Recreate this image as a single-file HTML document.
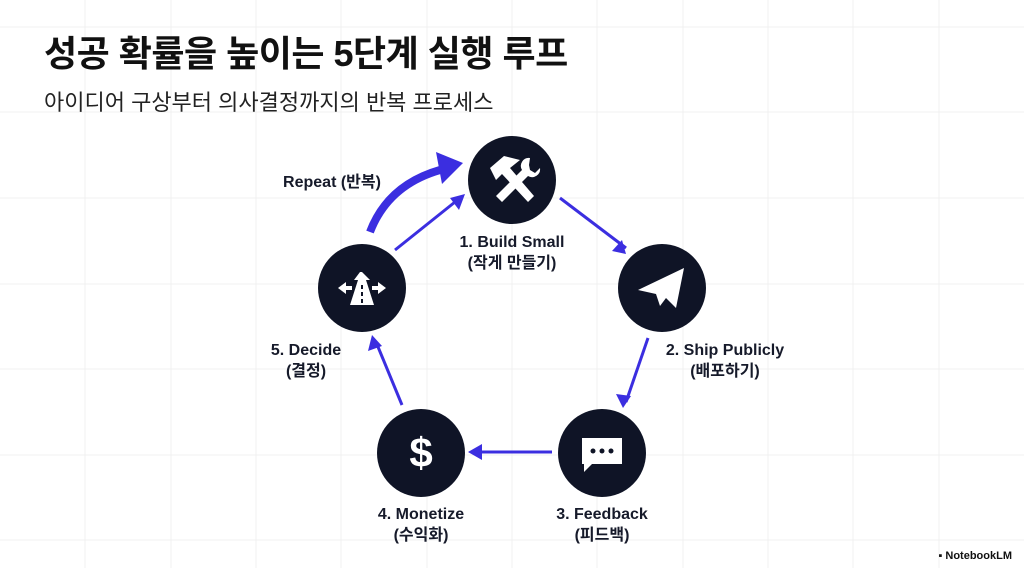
<!DOCTYPE html>
<html><head><meta charset="utf-8"><style>
body{margin:0;width:1024px;height:568px;overflow:hidden;background:#fff;font-family:"Liberation Sans","Noto Sans CJK KR",sans-serif;color:#111}
.t{position:absolute;left:44px;top:30px;font-size:36px;font-weight:bold;letter-spacing:-0.5px;line-height:48px}
.s{position:absolute;left:44px;top:88px;font-size:22px;color:#222;line-height:30px}
.l{position:absolute;font-weight:bold;font-size:16px;text-align:center;width:200px;line-height:21px;color:#161a2a}
.nb{position:absolute;right:12px;bottom:6px;font-size:11px;font-weight:bold}
</style></head><body>
<svg width="1024" height="568" style="position:absolute;left:0;top:0">
<g stroke="#f0f0f0" stroke-width="1">
<line x1="85" y1="0" x2="85" y2="568"/><line x1="171" y1="0" x2="171" y2="568"/><line x1="256" y1="0" x2="256" y2="568"/><line x1="341" y1="0" x2="341" y2="568"/><line x1="427" y1="0" x2="427" y2="568"/><line x1="512" y1="0" x2="512" y2="568"/><line x1="597" y1="0" x2="597" y2="568"/><line x1="683" y1="0" x2="683" y2="568"/><line x1="768" y1="0" x2="768" y2="568"/><line x1="853" y1="0" x2="853" y2="568"/><line x1="939" y1="0" x2="939" y2="568"/>
<line x1="0" y1="27" x2="1024" y2="27"/><line x1="0" y1="112" x2="1024" y2="112"/><line x1="0" y1="198" x2="1024" y2="198"/><line x1="0" y1="284" x2="1024" y2="284"/><line x1="0" y1="369" x2="1024" y2="369"/><line x1="0" y1="455" x2="1024" y2="455"/><line x1="0" y1="540" x2="1024" y2="540"/>
</g>
<g stroke="#3b2ee0" stroke-width="3" fill="none">
<line x1="560" y1="198" x2="626" y2="248"/>
<line x1="648" y1="338" x2="626" y2="402"/>
<line x1="552" y1="452" x2="474" y2="452"/>
<line x1="402" y1="405" x2="376" y2="342"/>
<line x1="395" y1="250" x2="460" y2="198"/>
<path d="M370,232 Q388,185 440,170" stroke-width="8"/>
</g>
<g fill="#3b2ee0">
<path d="M626,254 L612,251 L622,240 z"/>
<path d="M623,408 L616,394 L631,396 z"/>
<path d="M468,452 L482,444 L482,460 z"/>
<path d="M372,335 L368,351 L382,346 z"/>
<path d="M465,194 L450,198 L459,210 z"/>
<path d="M463,163 L436,152 L442,184 z"/>
</g>
<g fill="#0f1426">
<circle cx="512" cy="180" r="44"/><circle cx="662" cy="288" r="44"/><circle cx="602" cy="453" r="44"/><circle cx="421" cy="453" r="44"/><circle cx="362" cy="288" r="44"/>
</g>
<g fill="#fff">
<path d="M490,168 L504,156 L520,160 L510,168 L534,196 L528,202 L502,174 L496,180 z"/>
<path d="M530,158 a8,8 0 0 0 -8,12 L496,196 L502,202 L528,176 a8,8 0 0 0 12,-8 l-5,5 -5,-3 -1,-5 z"/>
<path d="M684,268 L638,290 L656,294 L660,306 L666,298 L676,308 z" />
<path d="M582,438 h40 v26 h-30 l-8,8 v-8 h-2 z"/>
<text x="421" y="467" font-size="42" font-weight="bold" text-anchor="middle" font-family="Liberation Sans">$</text>
<path d="M360,272 L354,280 L358,280 L350,305 L374,305 L366,280 L370,280 L362,272 z"/>
<path d="M338,288 l8,-6 v4 h6 v4 h-6 v4 z"/><path d="M386,288 l-8,-6 v4 h-6 v4 h6 v4 z"/>
</g>
<g fill="#0f1426">
<circle cx="593" cy="451" r="2.5"/><circle cx="602" cy="451" r="2.5"/><circle cx="611" cy="451" r="2.5"/>
<rect x="361" y="285" width="2" height="4"/><rect x="361" y="292" width="2" height="4"/><rect x="361" y="299" width="2" height="4"/>
</g>
</svg>
<div class="t">성공 확률을 높이는 5단계 실행 루프</div>
<div class="s">아이디어 구상부터 의사결정까지의 반복 프로세스</div>
<div class="l" style="left:412px;top:232px">1. Build Small<br>(작게 만들기)</div>
<div class="l" style="left:625px;top:340px">2. Ship Publicly<br>(배포하기)</div>
<div class="l" style="left:502px;top:504px">3. Feedback<br>(피드백)</div>
<div class="l" style="left:321px;top:504px">4. Monetize<br>(수익화)</div>
<div class="l" style="left:206px;top:340px">5. Decide<br>(결정)</div>
<div class="l" style="left:232px;top:172px">Repeat (반복)</div>
<div class="nb">▪ NotebookLM</div>
</body></html>
